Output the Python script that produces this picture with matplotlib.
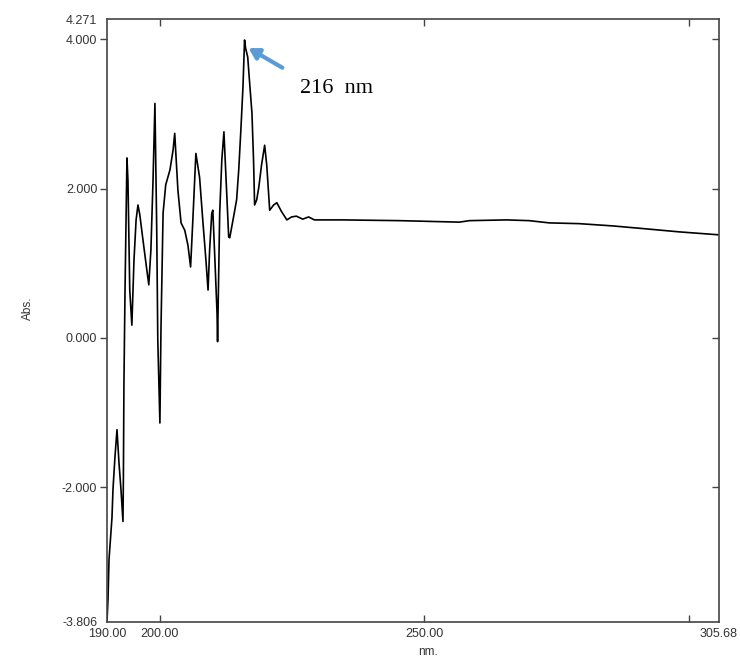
import matplotlib.pyplot as plt
import numpy as np

plt.rcParams['font.family'] = ['Liberation Sans', 'DejaVu Sans']

# spectrum
wavelength = [190.0, 190.19, 190.38, 190.94, 191.13, 191.51, 191.89, 192.26, 192.64, 193.02,
              193.1, 193.2, 193.4, 193.77, 193.96, 194.3, 194.7, 195.1, 195.5, 195.85,
              196.2, 196.8, 197.4, 197.9, 198.3, 198.7, 199.06, 199.4, 199.6, 200.0,
              200.2, 200.6, 201.1, 201.9, 202.5, 202.8, 203.4, 204.0, 204.7, 205.3,
              205.8, 206.2, 206.8, 207.5, 208.1, 208.7, 209.1, 209.4, 209.8, 210.0,
              210.4, 210.8, 210.9, 211.3, 211.7, 212.1, 212.6, 213.0, 213.2, 214.0,
              214.5, 214.9, 215.3, 215.7, 216.0, 216.2, 216.6, 217.0, 217.4, 217.7,
              217.9, 218.3, 218.7, 219.2, 219.8, 220.2, 220.75, 221.5, 222.1, 223.0,
              224.0, 224.9, 225.8, 227.0, 228.1, 229.2, 234.5, 245.3, 256.6, 258.5,
              265.5, 269.8, 273.6, 279.2, 285.5, 291.9, 298.1, 305.68]
absorbance = [-3.80, -3.50, -2.97, -2.41, -2.03, -1.59, -1.23, -1.67, -2.03, -2.46,
              -1.86, -0.63, 0.60, 2.41, 2.11, 0.64, 0.17, 1.04, 1.58, 1.78,
              1.65, 1.31, 0.98, 0.71, 1.18, 2.11, 3.14, 1.44, -0.03, -1.14,
              0.11, 1.67, 2.05, 2.25, 2.52, 2.74, 1.98, 1.54, 1.44, 1.24,
              0.95, 1.54, 2.47, 2.15, 1.58, 1.04, 0.64, 1.18, 1.67, 1.71,
              1.04, 0.33, -0.05, 1.67, 2.38, 2.76, 1.98, 1.35, 1.34, 1.65,
              1.85, 2.25, 2.78, 3.36, 3.99, 3.88, 3.76, 3.38, 3.01, 2.38,
              1.78, 1.85, 2.02, 2.31, 2.58, 2.31, 1.71, 1.78, 1.81, 1.69,
              1.58, 1.62, 1.63, 1.59, 1.62, 1.58, 1.58, 1.57, 1.55, 1.57,
              1.58, 1.57, 1.54, 1.53, 1.50, 1.46, 1.42, 1.38]

x_ticks = [190.0, 200.0, 250.0, 300.0, 305.68]
x_labels = ['190.00', '200.00', '250.00', '', '305.68']
y_ticks = [-3.806, -2.0, 0.0, 2.0, 4.0, 4.271]
y_labels = ['-3.806', '-2.000', '0.000', '2.000', '4.000', '4.271']

fig = plt.figure(figsize=(7.4, 6.59), dpi=100)
ax = fig.add_axes([107/740, 1-622/659, 612/740, 603/659])

ax.plot(wavelength, absorbance, color='black', lw=1.2)
ax.set_xlim(190.0, 305.68)
ax.set_ylim(-3.806, 4.271)

for s in ax.spines.values():
    s.set_color('#444444')
    s.set_linewidth(1.2)

ax.set_xticks(x_ticks)
ax.set_xticklabels(x_labels)
ax.tick_params(axis='x', direction='in', top=True, length=5, width=1, color='#444444',
               labelsize=9, labelcolor='#333333', pad=4)
ax.set_yticks(y_ticks)
ax.set_yticklabels(y_labels)
ax.tick_params(axis='y', direction='out', length=5, width=1, color='#444444',
               labelsize=9, labelcolor='#333333', pad=2)

xt = ax.xaxis.get_major_ticks()
for i in (0, 4):
    xt[i].tick1line.set_visible(False)
    xt[i].tick2line.set_visible(False)
yt = ax.yaxis.get_major_ticks()
for i in (0, 5):
    yt[i].tick1line.set_visible(False)

# inward ticks on the right side
ax2 = ax.secondary_yaxis('right')
ax2.set_yticks([-2.0, 0.0, 2.0, 4.0])
ax2.tick_params(direction='in', length=5, width=1, color='#444444', labelright=False)
ax2.spines['right'].set_visible(False)

fig.text(28/740, 1-308/659, 'Abs.', rotation=90, ha='center', va='center',
         fontsize=8.5, color='#333333')
fig.text(428/740, 1-652/659, 'nm.', ha='center', va='center', fontsize=8.5, color='#333333')

ax.annotate('', xy=(216.3, 3.9), xytext=(223.6, 3.6),
            arrowprops=dict(arrowstyle='-|>,head_length=0.6,head_width=0.35',
                            color='#5B9BD5', lw=3))
ax.text(226.4, 3.34, '216  nm', family='Liberation Serif', fontsize=16,
        ha='left', va='center', color='black')

fig.savefig('out.png', dpi=100)
